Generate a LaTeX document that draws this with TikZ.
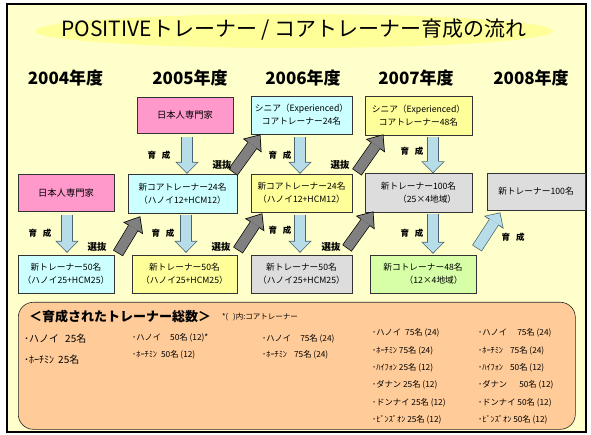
\documentclass[tikz,border=0pt]{standalone}
\usepackage{fontspec}
\setmainfont{Noto Sans CJK JP}
\usetikzlibrary{arrows.meta,calc,positioning}
\definecolor{bgyellow}{HTML}{FFFFCC}
\definecolor{titleyellow}{HTML}{FFFF99}
\definecolor{pinkbox}{HTML}{FF99CC}
\definecolor{cyanbox}{HTML}{CCFFFF}
\definecolor{yellowbox}{HTML}{FFFF99}
\definecolor{graybox}{HTML}{DDDDDD}
\definecolor{greenbox}{HTML}{D6FFA8}
\definecolor{peach}{HTML}{FFCC99}
\definecolor{arrowblue}{HTML}{B7DDE8}
\definecolor{arrowedge}{HTML}{4A6470}
\definecolor{arrowgray}{HTML}{808080}
\tikzset{
  box/.style={draw=black!80, line width=0.6pt, align=center, inner sep=1pt,
    font=\fontsize{8.7}{13}\selectfont},
  year/.style={inner sep=0pt, font=\fontsize{17}{20}\selectfont\bfseries},
  tag/.style={inner sep=0pt, font=\fontsize{8.5}{10}\selectfont\bfseries},
  item/.style={anchor=west, inner sep=0pt, font=\fontsize{8.3}{10}\selectfont},
  growarrow/.style={line width=10pt, draw=arrowblue,
    -{Triangle[length=10pt,width=20pt,line width=0pt]},
    preaction={draw=arrowedge, line width=11.4pt, shorten <=-0.7pt, shorten >=-1.1pt,
      -{Triangle[length=12pt,width=23.4pt,line width=0pt]}}},
  pickarrow/.style={line width=10pt, draw=arrowgray,
    -{Triangle[length=12pt,width=20pt,line width=0pt]},
    preaction={draw=black, line width=11.4pt, shorten <=-0.7pt, shorten >=-1.2pt,
      -{Triangle[length=14pt,width=23.2pt,line width=0pt]}}}
}

\begin{document}
\begin{tikzpicture}[x=1pt, y=-1pt]
  \useasboundingbox (0,0) rectangle (591,435);
  \draw[fill=bgyellow, line width=2pt] (7,4) rectangle (586,432);

  % title
  \fill[titleyellow] (294,31) ellipse [x radius=259pt, y radius=17pt];
  \node[inner sep=0pt, font=\fontsize{21}{24}\selectfont] (title) at (294,30)
    {POSITIVEトレーナー / コアトレーナー育成の流れ};

  % years
  \node[year] (y2004) at (65.5,78) {2004年度};
  \node[year] (y2005) at (190,78) {2005年度};
  \node[year] (y2006) at (303,78) {2006年度};
  \node[year] (y2007) at (416,78) {2007年度};
  \node[year] (y2008) at (531,78) {2008年度};

  % boxes
  \node[box, fill=pinkbox, minimum width=96pt, minimum height=36pt,
    font=\fontsize{9.3}{13}\selectfont] (exp05) at (185,115) {日本人専門家};
  \node[box, fill=cyanbox, minimum width=101pt, minimum height=38pt] (sen06)
    at (301.5,115) {シニア（Experienced）\\コアトレーナー24名};
  \node[box, fill=yellowbox, minimum width=107pt, minimum height=39pt] (sen07)
    at (418.5,115.5) {シニア（Experienced）\\コアトレーナー48名};

  \node[box, fill=pinkbox, minimum width=96pt, minimum height=37pt,
    font=\fontsize{9.3}{13}\selectfont] (exp04) at (66,192.5) {日本人専門家};
  \node[box, fill=cyanbox, minimum width=109pt, minimum height=39pt] (core05)
    at (182.5,193.5) {新コアトレーナー24名\\（ハノイ12+HCM12）};
  \node[box, fill=yellowbox, minimum width=101pt, minimum height=38pt] (core06)
    at (301.5,193) {新コアトレーナー24名\\（ハノイ12+HCM12）};
  \node[box, fill=graybox, minimum width=107pt, minimum height=39pt, align=right] (new07)
    at (418.5,192.5) {新トレーナー100名\\（25×4地域）};
  \node[box, fill=graybox, minimum width=98pt, minimum height=37pt] (new08)
    at (536,191.5) {新トレーナー100名};

  \node[box, fill=cyanbox, minimum width=96pt, minimum height=38pt] (tr04)
    at (66,274) {新トレーナー50名\\（ハノイ25+HCM25）};
  \node[box, fill=yellowbox, minimum width=105pt, minimum height=38pt] (tr05)
    at (184.5,274) {新トレーナー50名\\（ハノイ25+HCM25）};
  \node[box, fill=graybox, minimum width=101pt, minimum height=38pt] (tr06)
    at (301.5,274) {新トレーナー50名\\（ハノイ25+HCM25）};
  \node[box, fill=greenbox, minimum width=106pt, minimum height=38pt, align=right] (core07)
    at (423,274) {新コトレーナー48名\\（12×4地域）};

  % growth arrows
  \draw[growarrow] ($(exp05.south)+(2,4)$) -- ($(core05.north)+(4.5,-1)$);
  \draw[growarrow] ($(exp04.south)+(1,4)$) -- ($(tr04.north)+(1,-3)$);
  \draw[growarrow] ($(core05.south)+(3.5,2)$) -- ($(tr05.north)+(1.5,-3)$);
  \draw[growarrow] ($(sen06.south)+(-1.5,3)$) -- ($(core06.north)+(-1.5,-1)$);
  \draw[growarrow] ($(core06.south)+(-1.5,3)$) -- ($(tr06.north)+(-1.5,-3)$);
  \draw[growarrow] ($(sen07.south)+(14.5,2)$) -- ($(new07.north)+(14.5,-0.5)$);
  \draw[growarrow] ($(new07.south)+(14.5,2)$) -- ($(core07.north)+(10,-2)$);
  \draw[growarrow] ($(core07.north east)+(1,-7)$) -- ($(new08.south west)+(13,3)$);

  % selection arrows
  \draw[pickarrow] ($(tr04.north east)+(4,-2)$) -- ($(core05.south west)+(12,4)$);
  \draw[pickarrow] ($(tr05.north east)+(1,-5)$) -- ($(core06.south west)+(11,2)$);
  \draw[pickarrow] ($(core05.north east)+(-4,-2)$) -- ($(sen06.south west)+(9,1)$);
  \draw[pickarrow] ($(core06.north east)+(5,-2)$) -- ($(sen07.south west)+(18,0)$);
  \draw[pickarrow] ($(tr06.north east)+(-5,-7)$) -- ($(new07.south west)+(8,0)$);

  % labels
  \node[tag] (g1) at (159,155) {育\hspace{6pt}成};
  \node[tag] (g2) at (40,233) {育\hspace{6pt}成};
  \node[tag] (g3) at (163,233) {育\hspace{6pt}成};
  \node[tag] (g4) at (280,155) {育\hspace{6pt}成};
  \node[tag] (g5) at (280,230) {育\hspace{6pt}成};
  \node[tag] (g6) at (412,151) {育\hspace{6pt}成};
  \node[tag] (g7) at (412,233) {育\hspace{6pt}成};
  \node[tag] (g8) at (513,237) {育\hspace{6pt}成};
  \node[tag, font=\fontsize{9.5}{10}\selectfont\bfseries] (s1) at (222,165) {選抜};
  \node[tag, font=\fontsize{9.5}{10}\selectfont\bfseries] (s2) at (97,247) {選抜};
  \node[tag, font=\fontsize{9.5}{10}\selectfont\bfseries] (s3) at (221,247) {選抜};
  \node[tag, font=\fontsize{9.5}{10}\selectfont\bfseries] (s4) at (340,165) {選抜};
  \node[tag, font=\fontsize{9.5}{10}\selectfont\bfseries] (s5) at (331,247) {選抜};

  % totals
  \node[draw=black!85, line width=0.6pt, fill=peach, rounded corners=15pt,
    minimum width=557pt, minimum height=127pt, anchor=north west] (total) at (18,302) {};
  \node[anchor=west, inner sep=0pt, font=\fontsize{13}{15}\selectfont\bfseries] (head)
    at (29,317) {＜育成されたトレーナー総数＞};
  \node[anchor=west, inner sep=0pt, font=\fontsize{7.5}{9}\selectfont] (note)
    at (222,317) {*(\hspace{5pt})内:コアトレーナー};

  \node[item, font=\fontsize{10}{12}\selectfont] (ha04) at (24,339) {･ハノイ\hspace{6pt}25名};
  \node[item, font=\fontsize{10}{12}\selectfont] (ho04) at (24,360) {･ﾎｰﾁﾐﾝ\hspace{4pt}25名};
  \node[item] (ha05) at (132,338) {･ハノイ\hspace{9pt}50名 (12)*};
  \node[item] (ho05) at (132,355) {･ﾎｰﾁﾐﾝ\hspace{4pt}50名 (12)};
  \node[item] (ha06) at (262,339) {･ハノイ\hspace{9pt}75名 (24)};
  \node[item] (ho06) at (262,355) {･ﾎｰﾁﾐﾝ\hspace{7pt}75名 (24)};

  \foreach \t [count=\i] in {{･ハノイ\hspace{4pt}75名 (24)}, {･ﾎｰﾁﾐﾝ 75名 (24)},
      {･ﾊｲﾌｫﾝ 25名 (12)}, {･ダナン 25名 (12)}, {･ドンナイ 25名 (12)},
      {･ﾋﾞﾝｽﾞｵﾝ 25名 (12)}}
    \node[item] (c07-\i) at (372,{333+17.35*(\i-1)}) {\t};
  \foreach \t [count=\i] in {{･ハノイ\hspace{10pt}75名 (24)}, {･ﾎｰﾁﾐﾝ\hspace{7pt}75名 (24)},
      {･ﾊｲﾌｫﾝ\hspace{7pt}50名 (12)}, {･ダナン\hspace{12pt}50名 (12)},
      {･ドンナイ 50名 (12)}, {･ﾋﾞﾝｽﾞｵﾝ 50名 (12)}}
    \node[item] (c08-\i) at (478,{333+17.35*(\i-1)}) {\t};
\end{tikzpicture}
\end{document}
